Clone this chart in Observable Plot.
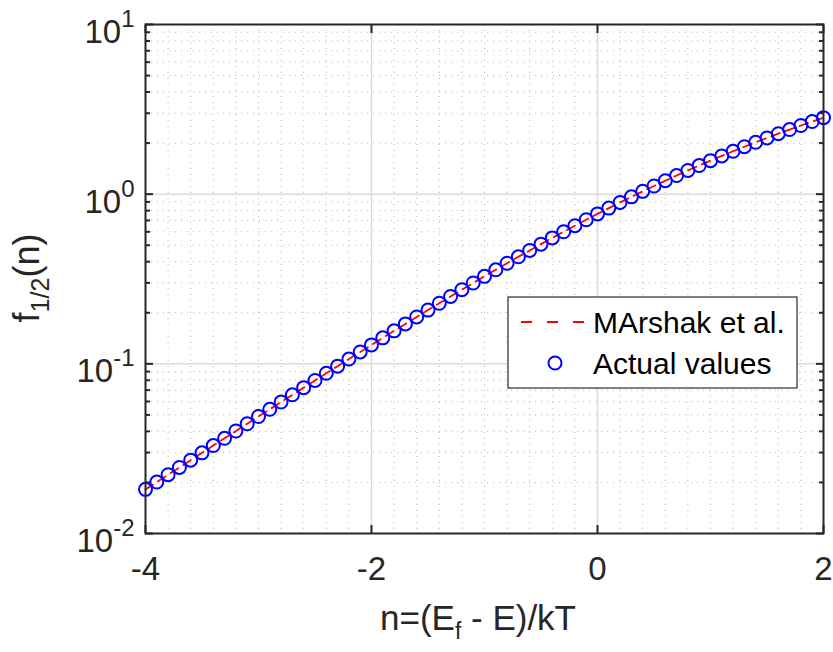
<!DOCTYPE html>
<html>
<head>
<meta charset="utf-8">
<script src="https://cdn.jsdelivr.net/npm/d3@7"></script>
<script src="https://cdn.jsdelivr.net/npm/@observablehq/plot@0.6"></script>
<style>
  html, body { margin: 0; padding: 0; background: #fff; }
  #chart svg { display: block; }
</style>
</head>
<body>
<div id="chart"></div>
<script>
// ---- data ----
const n = [
  -4.0, -3.9, -3.8, -3.7, -3.6, -3.5, -3.4, -3.3, -3.2, -3.1,
  -3.0, -2.9, -2.8, -2.7, -2.6, -2.5, -2.4, -2.3, -2.2, -2.1,
  -2.0, -1.9, -1.8, -1.7, -1.6, -1.5, -1.4, -1.3, -1.2, -1.1,
  -1.0, -0.9, -0.8, -0.7, -0.6, -0.5, -0.4, -0.3, -0.2, -0.1,
   0.0,  0.1,  0.2,  0.3,  0.4,  0.5,  0.6,  0.7,  0.8,  0.9,
   1.0,  1.1,  1.2,  1.3,  1.4,  1.5,  1.6,  1.7,  1.8,  1.9,
   2.0
];
const actualValues = [
  0.01820, 0.02010, 0.02220, 0.02451, 0.02706, 0.02988, 0.03299, 0.03641, 0.04019, 0.04435,
  0.04893, 0.05398, 0.05954, 0.06567, 0.07240, 0.07980, 0.08794, 0.09689, 0.10671, 0.11748,
  0.12930, 0.14225, 0.15642, 0.17193, 0.18889, 0.20740, 0.22759, 0.24959, 0.27353, 0.29955,
  0.32779, 0.35841, 0.39154, 0.42733, 0.46595, 0.50754, 0.55225, 0.60022, 0.65161, 0.70654,
  0.76515, 0.82756, 0.89388, 0.96422, 1.03868, 1.11733, 1.20025, 1.28750, 1.37913, 1.47517,
  1.57564, 1.68058, 1.78999, 1.90385, 2.02217, 2.14493, 2.27210, 2.40365, 2.53956, 2.67980,
  2.82370
];
const marshakValues = actualValues; // the dashed approximation lies on the same points

const seriesNames = ["MArshak et al.", "Actual values"];

const xMajorTicks = [-4, -2, 0, 2];
const xTickLabels = ["-4", "-2", "0", "2"];
const xMinorGrid = [-3.8, -3.6, -3.4, -3.2, -3.0, -2.8, -2.6, -2.4, -2.2,
                    -1.8, -1.6, -1.4, -1.2, -1.0, -0.8, -0.6, -0.4, -0.2,
                     0.2,  0.4,  0.6,  0.8,  1.0,  1.2,  1.4,  1.6,  1.8];
const yMajorTicks = [0.01, 0.1, 1, 10];
const yTickExponents = ["-2", "-1", "0", "1"];
const yMinorTicks = [0.02, 0.03, 0.04, 0.05, 0.06, 0.07, 0.08, 0.09,
                     0.2, 0.3, 0.4, 0.5, 0.6, 0.7, 0.8, 0.9,
                     2, 3, 4, 5, 6, 7, 8, 9];

const data = n.map((x, i) => ({n: x, actual: actualValues[i], marshak: marshakValues[i]}));
const xLabelMap = new Map(xMajorTicks.map((v, i) => [v, xTickLabels[i]]));
const yLabelMap = new Map(yMajorTicks.map((v, i) => [v, "10^" + yTickExponents[i]]));

const INK = "#262626";
const FONT = "'Liberation Sans', Arial, Helvetica, sans-serif";

const chart = Plot.plot({
  width: 833,
  height: 652,
  marginLeft: 145,
  marginRight: 10,
  marginTop: 24,
  marginBottom: 119,
  style: {fontFamily: FONT, background: "#fff"},
  x: {domain: [-4, 2]},
  y: {type: "log", domain: [0.01, 10]},
  marks: [
    // minor grids (dotted)
    Plot.gridY(yMinorTicks, {stroke: "#b8b8b8", strokeOpacity: 1, strokeWidth: 1, strokeDasharray: "1,5"}),
    Plot.gridX(xMinorGrid, {stroke: "#b8b8b8", strokeOpacity: 1, strokeWidth: 1, strokeDasharray: "1,5"}),
    // major grids
    Plot.gridY([0.1, 1], {stroke: "#dadada", strokeOpacity: 1, strokeWidth: 1.5}),
    Plot.gridX([-2, 0], {stroke: "#dadada", strokeOpacity: 1, strokeWidth: 1.5}),
    // series
    Plot.line(data, {x: "n", y: "marshak", stroke: "#ff0000", strokeWidth: 1.8, strokeDasharray: "9,6"}),
    Plot.dot(data, {x: "n", y: "actual", r: 6.5, stroke: "#0000ff", strokeWidth: 2, fill: "none"}),
    // inward ticks
    Plot.axisY(yMajorTicks, {anchor: "left", tickSize: -8, fill: "none", label: null, stroke: INK, strokeWidth: 2}),
    Plot.axisY(yMinorTicks, {anchor: "left", tickSize: -5, fill: "none", label: null, stroke: INK, strokeWidth: 2}),
    Plot.axisY(yMajorTicks, {anchor: "right", tickSize: -8, fill: "none", label: null, stroke: INK, strokeWidth: 2}),
    Plot.axisY(yMinorTicks, {anchor: "right", tickSize: -5, fill: "none", label: null, stroke: INK, strokeWidth: 2}),
    Plot.axisX(xMajorTicks, {anchor: "bottom", tickSize: -8, fill: "none", label: null, stroke: INK, strokeWidth: 2}),
    Plot.axisX(xMajorTicks, {anchor: "top", tickSize: -8, fill: "none", label: null, stroke: INK, strokeWidth: 2}),
    // tick labels
    Plot.axisY(yMajorTicks, {anchor: "left", tickSize: 0, tickPadding: 11, dy: 8, fontSize: 33,
      fill: INK, label: null, tickFormat: d => yLabelMap.get(d)}),
    Plot.axisX(xMajorTicks, {anchor: "bottom", tickSize: 0, tickPadding: 23, fontSize: 33,
      fill: INK, label: null, tickFormat: d => xLabelMap.get(d)}),
    Plot.frame({stroke: INK, strokeWidth: 2})
  ]
});

document.getElementById("chart").appendChild(chart);

const svg = d3.select(chart);

// superscripts on the y tick labels
svg.selectAll('g[aria-label="y-axis tick label"] text').each(function () {
  const s = this.textContent;
  const parts = s.split("^");
  const t = d3.select(this);
  t.text(parts[0]);
  t.append("tspan").attr("dy", -16).attr("font-size", 24).text(parts[1]);
});

// x axis title
const xt = svg.append("text")
  .attr("x", 478).attr("y", 630)
  .attr("text-anchor", "middle")
  .attr("font-family", FONT).attr("font-size", 35).attr("fill", INK);
xt.append("tspan").text("n=(E");
xt.append("tspan").attr("dy", 9).attr("font-size", 23).text("f");
xt.append("tspan").attr("dy", -9).text(" - E)/kT");

// y axis title
const yt = svg.append("text")
  .attr("transform", "translate(39,278) rotate(-90)")
  .attr("text-anchor", "middle")
  .attr("font-family", FONT).attr("font-size", 36).attr("fill", INK);
yt.append("tspan").text("f");
yt.append("tspan").attr("dy", 10).attr("font-size", 25).text("1/2");
yt.append("tspan").attr("dy", -10).text("(n)");

// legend
const lg = svg.append("g").attr("font-family", FONT).attr("font-size", 30).attr("text-anchor", "start");
lg.append("rect").attr("x", 508).attr("y", 297).attr("width", 289).attr("height", 91)
  .attr("fill", "#fff").attr("stroke", "#000").attr("stroke-width", 1);
lg.append("line").attr("x1", 521).attr("x2", 587).attr("y1", 322).attr("y2", 322)
  .attr("stroke", "#ff0000").attr("stroke-width", 1.8).attr("stroke-dasharray", "11,15");
lg.append("text").attr("x", 593).attr("y", 333).attr("fill", "#000").attr("text-anchor", "start").text(seriesNames[0]);
lg.append("circle").attr("cx", 555).attr("cy", 363).attr("r", 6.5)
  .attr("fill", "none").attr("stroke", "#0000ff").attr("stroke-width", 2);
lg.append("text").attr("x", 593).attr("y", 374).attr("fill", "#000").attr("text-anchor", "start").text(seriesNames[1]);
</script>
</body>
</html>
